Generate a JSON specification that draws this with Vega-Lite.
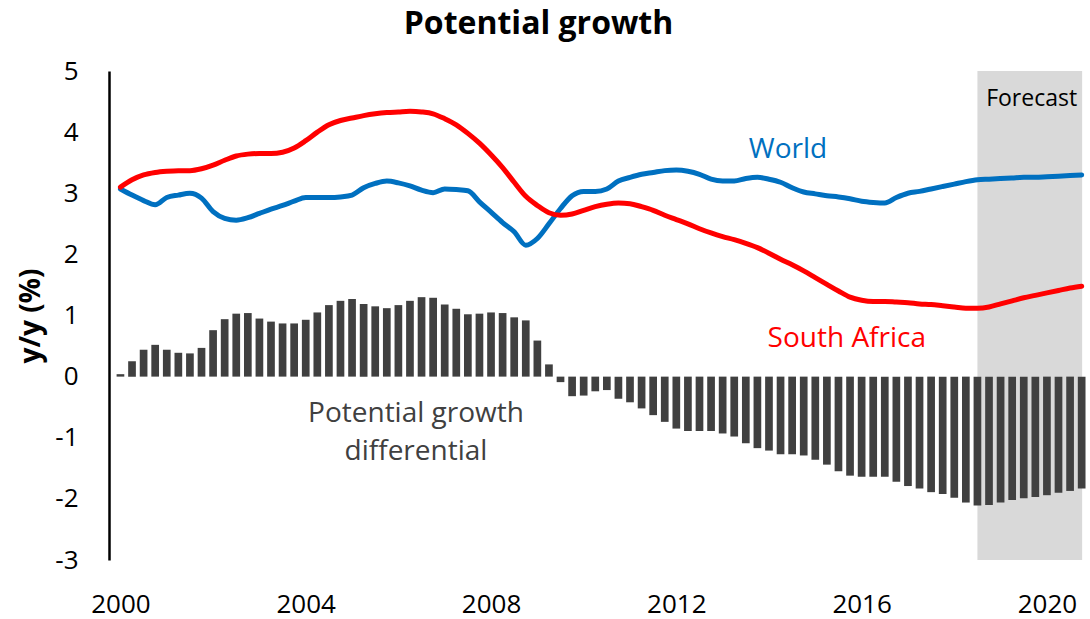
{
  "$schema": "https://vega.github.io/schema/vega-lite/v6.json",
  "width": 981,
  "height": 489,
  "autosize": {"type": "none"},
  "padding": {"left": 109, "top": 71, "right": 0, "bottom": 59},
  "background": "white",
  "config": {
    "view": {"stroke": null},
    "font": "Open Sans",
    "text": {"font": "Open Sans"}
  },
  "title": {
    "text": "Potential growth",
    "font": "Open Sans",
    "fontSize": 32,
    "fontWeight": "bold",
    "color": "black",
    "anchor": "middle",
    "baseline": "alphabetic",
    "offset": -8,
    "dx": -61
  },
  "datasets": {
    "series": [
      {"t": 2000.00, "world": 3.07, "sa": 3.10, "diff": 0.04},
      {"t": 2000.25, "world": 2.97, "sa": 3.22, "diff": 0.25},
      {"t": 2000.50, "world": 2.88, "sa": 3.30, "diff": 0.44},
      {"t": 2000.75, "world": 2.81, "sa": 3.34, "diff": 0.52},
      {"t": 2001.00, "world": 2.93, "sa": 3.36, "diff": 0.44},
      {"t": 2001.25, "world": 2.97, "sa": 3.37, "diff": 0.39},
      {"t": 2001.50, "world": 3.00, "sa": 3.37, "diff": 0.38},
      {"t": 2001.75, "world": 2.92, "sa": 3.40, "diff": 0.47},
      {"t": 2002.00, "world": 2.70, "sa": 3.46, "diff": 0.76},
      {"t": 2002.25, "world": 2.59, "sa": 3.54, "diff": 0.94},
      {"t": 2002.50, "world": 2.56, "sa": 3.61, "diff": 1.03},
      {"t": 2002.75, "world": 2.60, "sa": 3.64, "diff": 1.04},
      {"t": 2003.00, "world": 2.67, "sa": 3.65, "diff": 0.95},
      {"t": 2003.25, "world": 2.74, "sa": 3.65, "diff": 0.90},
      {"t": 2003.50, "world": 2.80, "sa": 3.67, "diff": 0.87},
      {"t": 2003.75, "world": 2.87, "sa": 3.74, "diff": 0.87},
      {"t": 2004.00, "world": 2.93, "sa": 3.86, "diff": 0.93},
      {"t": 2004.25, "world": 2.93, "sa": 4.00, "diff": 1.05},
      {"t": 2004.50, "world": 2.93, "sa": 4.12, "diff": 1.17},
      {"t": 2004.75, "world": 2.94, "sa": 4.19, "diff": 1.24},
      {"t": 2005.00, "world": 2.97, "sa": 4.23, "diff": 1.27},
      {"t": 2005.25, "world": 3.09, "sa": 4.27, "diff": 1.19},
      {"t": 2005.50, "world": 3.16, "sa": 4.30, "diff": 1.15},
      {"t": 2005.75, "world": 3.20, "sa": 4.32, "diff": 1.12},
      {"t": 2006.00, "world": 3.17, "sa": 4.33, "diff": 1.17},
      {"t": 2006.25, "world": 3.12, "sa": 4.34, "diff": 1.24},
      {"t": 2006.50, "world": 3.05, "sa": 4.33, "diff": 1.30},
      {"t": 2006.75, "world": 3.01, "sa": 4.30, "diff": 1.29},
      {"t": 2007.00, "world": 3.07, "sa": 4.22, "diff": 1.18},
      {"t": 2007.25, "world": 3.06, "sa": 4.12, "diff": 1.11},
      {"t": 2007.50, "world": 3.04, "sa": 3.98, "diff": 1.02},
      {"t": 2007.75, "world": 2.86, "sa": 3.82, "diff": 1.03},
      {"t": 2008.00, "world": 2.69, "sa": 3.63, "diff": 1.05},
      {"t": 2008.25, "world": 2.52, "sa": 3.42, "diff": 1.04},
      {"t": 2008.50, "world": 2.37, "sa": 3.18, "diff": 0.97},
      {"t": 2008.75, "world": 2.15, "sa": 2.95, "diff": 0.92},
      {"t": 2009.00, "world": 2.26, "sa": 2.80, "diff": 0.59},
      {"t": 2009.25, "world": 2.50, "sa": 2.68, "diff": 0.20},
      {"t": 2009.50, "world": 2.75, "sa": 2.64, "diff": -0.09},
      {"t": 2009.75, "world": 2.96, "sa": 2.66, "diff": -0.32},
      {"t": 2010.00, "world": 3.03, "sa": 2.72, "diff": -0.31},
      {"t": 2010.25, "world": 3.03, "sa": 2.78, "diff": -0.24},
      {"t": 2010.50, "world": 3.07, "sa": 2.82, "diff": -0.22},
      {"t": 2010.75, "world": 3.20, "sa": 2.84, "diff": -0.36},
      {"t": 2011.00, "world": 3.26, "sa": 2.83, "diff": -0.42},
      {"t": 2011.25, "world": 3.31, "sa": 2.78, "diff": -0.52},
      {"t": 2011.50, "world": 3.34, "sa": 2.72, "diff": -0.63},
      {"t": 2011.75, "world": 3.37, "sa": 2.64, "diff": -0.74},
      {"t": 2012.00, "world": 3.38, "sa": 2.57, "diff": -0.85},
      {"t": 2012.25, "world": 3.36, "sa": 2.50, "diff": -0.89},
      {"t": 2012.50, "world": 3.31, "sa": 2.42, "diff": -0.89},
      {"t": 2012.75, "world": 3.23, "sa": 2.35, "diff": -0.89},
      {"t": 2013.00, "world": 3.20, "sa": 2.29, "diff": -0.93},
      {"t": 2013.25, "world": 3.20, "sa": 2.24, "diff": -0.98},
      {"t": 2013.50, "world": 3.24, "sa": 2.18, "diff": -1.09},
      {"t": 2013.75, "world": 3.26, "sa": 2.11, "diff": -1.17},
      {"t": 2014.00, "world": 3.23, "sa": 2.02, "diff": -1.21},
      {"t": 2014.25, "world": 3.18, "sa": 1.92, "diff": -1.27},
      {"t": 2014.50, "world": 3.09, "sa": 1.83, "diff": -1.27},
      {"t": 2014.75, "world": 3.02, "sa": 1.73, "diff": -1.29},
      {"t": 2015.00, "world": 2.99, "sa": 1.62, "diff": -1.36},
      {"t": 2015.25, "world": 2.96, "sa": 1.51, "diff": -1.44},
      {"t": 2015.50, "world": 2.94, "sa": 1.40, "diff": -1.55},
      {"t": 2015.75, "world": 2.91, "sa": 1.30, "diff": -1.62},
      {"t": 2016.00, "world": 2.87, "sa": 1.25, "diff": -1.64},
      {"t": 2016.25, "world": 2.85, "sa": 1.23, "diff": -1.64},
      {"t": 2016.50, "world": 2.84, "sa": 1.23, "diff": -1.64},
      {"t": 2016.75, "world": 2.93, "sa": 1.22, "diff": -1.72},
      {"t": 2017.00, "world": 3.00, "sa": 1.21, "diff": -1.79},
      {"t": 2017.25, "world": 3.03, "sa": 1.19, "diff": -1.83},
      {"t": 2017.50, "world": 3.07, "sa": 1.18, "diff": -1.89},
      {"t": 2017.75, "world": 3.11, "sa": 1.16, "diff": -1.92},
      {"t": 2018.00, "world": 3.15, "sa": 1.14, "diff": -1.98},
      {"t": 2018.25, "world": 3.19, "sa": 1.12, "diff": -2.06},
      {"t": 2018.50, "world": 3.22, "sa": 1.12, "diff": -2.11},
      {"t": 2018.75, "world": 3.23, "sa": 1.14, "diff": -2.10},
      {"t": 2019.00, "world": 3.24, "sa": 1.19, "diff": -2.06},
      {"t": 2019.25, "world": 3.25, "sa": 1.24, "diff": -2.02},
      {"t": 2019.50, "world": 3.26, "sa": 1.29, "diff": -1.99},
      {"t": 2019.75, "world": 3.26, "sa": 1.33, "diff": -1.97},
      {"t": 2020.00, "world": 3.27, "sa": 1.37, "diff": -1.94},
      {"t": 2020.25, "world": 3.28, "sa": 1.41, "diff": -1.90},
      {"t": 2020.50, "world": 3.29, "sa": 1.45, "diff": -1.87},
      {"t": 2020.75, "world": 3.30, "sa": 1.48, "diff": -1.83}
    ]
  },
  "layer": [
    {
      "data": {"values": [{"start": 2018.5, "end": 2020.76}]},
      "mark": {"type": "rect", "color": "#D9D9D9"},
      "encoding": {
        "x": {"field": "start", "type": "quantitative", "scale": {"domain": [1999.861, 2020.822], "nice": false, "zero": false},
          "axis": {"values": [2000, 2004, 2008, 2012, 2016, 2020], "labelExpr": "'' + datum.value", "domain": false, "ticks": false, "grid": false,
            "labelFont": "Open Sans", "labelFontSize": 26, "labelColor": "black", "labelPadding": 31, "labelFlush": false, "labelOverlap": false, "title": null}},
        "x2": {"field": "end"}
      }
    },
    {
      "data": {"name": "series"},
      "mark": {"type": "bar", "color": "#404040", "size": 7.7, "orient": "vertical"},
      "encoding": {
        "x": {"field": "t", "type": "quantitative"},
        "y": {"field": "diff", "type": "quantitative", "scale": {"domain": [-3, 5], "nice": false},
          "axis": {"values": [-3, -2, -1, 0, 1, 2, 3, 4, 5], "labelExpr": "'' + datum.value", "domain": true, "domainColor": "black", "domainWidth": 2.5, "ticks": false, "grid": false,
            "labelFont": "Open Sans", "labelFontSize": 26, "labelColor": "black", "labelPadding": 31,
            "title": "y/y (%)", "titleFont": "Open Sans", "titleFontSize": 28, "titleFontWeight": "bold", "titleColor": "black", "titlePadding": 9}}
      }
    },
    {
      "mark": {"type": "rule", "color": "black", "strokeWidth": 2.5},
      "encoding": {"y": {"datum": 0}}
    },
    {
      "data": {"name": "series"},
      "mark": {"type": "line", "color": "#0070C0", "strokeWidth": 5, "strokeCap": "round", "strokeJoin": "round", "interpolate": "monotone"},
      "encoding": {
        "x": {"field": "t", "type": "quantitative"},
        "y": {"field": "world", "type": "quantitative"}
      }
    },
    {
      "data": {"name": "series"},
      "mark": {"type": "line", "color": "#FF0000", "strokeWidth": 5, "strokeCap": "round", "strokeJoin": "round", "interpolate": "monotone"},
      "encoding": {
        "x": {"field": "t", "type": "quantitative"},
        "y": {"field": "sa", "type": "quantitative"}
      }
    },
    {
      "data": {"values": [{"label": "World", "t": 2014.41, "v": 3.575}]},
      "mark": {"type": "text", "color": "#0070C0", "fontSize": 28, "font": "Open Sans", "align": "center", "baseline": "alphabetic"},
      "encoding": {
        "x": {"field": "t", "type": "quantitative"},
        "y": {"field": "v", "type": "quantitative"},
        "text": {"field": "label"}
      }
    },
    {
      "data": {"values": [{"label": "South Africa", "t": 2015.68, "v": 0.49}]},
      "mark": {"type": "text", "color": "#FF0000", "fontSize": 28, "font": "Open Sans", "align": "center", "baseline": "alphabetic"},
      "encoding": {
        "x": {"field": "t", "type": "quantitative"},
        "y": {"field": "v", "type": "quantitative"},
        "text": {"field": "label"}
      }
    },
    {
      "data": {"values": [{"label": "Forecast", "t": 2019.67, "v": 4.42}]},
      "mark": {"type": "text", "color": "black", "fontSize": 23, "font": "Open Sans", "align": "center", "baseline": "alphabetic"},
      "encoding": {
        "x": {"field": "t", "type": "quantitative"},
        "y": {"field": "v", "type": "quantitative"},
        "text": {"field": "label"}
      }
    },
    {
      "data": {"values": [{"label": ["Potential growth", "differential"], "t": 2006.38, "v": -0.74}]},
      "mark": {"type": "text", "color": "#404040", "fontSize": 28, "font": "Open Sans", "align": "center", "baseline": "alphabetic", "lineHeight": 38},
      "encoding": {
        "x": {"field": "t", "type": "quantitative"},
        "y": {"field": "v", "type": "quantitative"},
        "text": {"field": "label"}
      }
    }
  ]
}
